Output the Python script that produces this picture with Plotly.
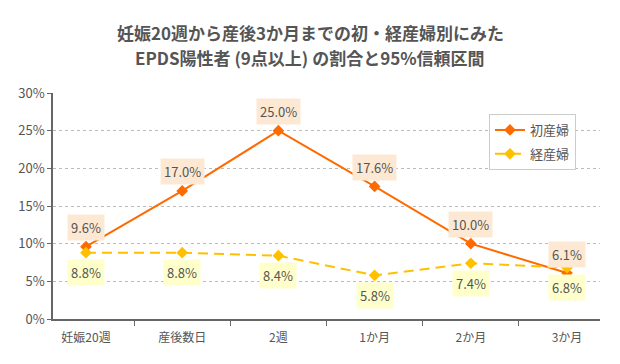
import plotly.graph_objects as go

categories = ["妊娠20週", "産後数日", "2週", "1か月", "2か月", "3か月"]
primipara = [9.6, 17.0, 25.0, 17.6, 10.0, 6.1]
multipara = [8.8, 8.8, 8.4, 5.8, 7.4, 6.8]
y_ticks = [0, 5, 10, 15, 20, 25, 30]
y_ticklabels = [f"{v}%" for v in y_ticks]
title_lines = ["妊娠20週から産後3か月までの初・経産婦別にみた",
               "EPDS陽性者 (9点以上) の割合と95%信頼区間"]

ORANGE = "#ff6a00"
YELLOW = "#ffc000"
TEXT = "#555555"
FONT = "Noto Sans CJK JP"

fig = go.Figure()
fig.add_trace(go.Scatter(
    x=categories, y=primipara, name="初産婦", mode="lines+markers",
    legendgroup="a",
    line=dict(color=ORANGE, width=2),
    marker=dict(symbol="diamond", size=9, color=ORANGE),
))
fig.add_trace(go.Scatter(
    x=categories, y=multipara, name="経産婦", mode="lines+markers",
    legendgroup="b",
    line=dict(color=YELLOW, width=2, dash="10px,6px"),
    marker=dict(symbol="diamond", size=9, color=YELLOW),
))

annotations = []
for c, v in zip(categories, primipara):
    annotations.append(dict(
        x=c, y=v, xref="x", yref="y", text=f"{v:.1f}%", showarrow=False,
        yshift=19, bgcolor="#fde9d3", borderpad=3,
        font=dict(family=FONT, size=13, color=TEXT),
    ))
for c, v in zip(categories, multipara):
    annotations.append(dict(
        x=c, y=v, xref="x", yref="y", text=f"{v:.1f}%", showarrow=False,
        yshift=-20, bgcolor="#ffffcc", borderpad=3,
        font=dict(family=FONT, size=13, color=TEXT),
    ))
for line, ty in zip(title_lines, [1.267, 1.156]):
    annotations.append(dict(
        x=0.470, y=ty, xref="paper", yref="paper", text=f"<b>{line}</b>",
        showarrow=False, xanchor="center", yanchor="middle",
        font=dict(family=FONT, size=17, color=TEXT),
    ))

fig.update_layout(
    width=612, height=356,
    margin=dict(l=45, r=20, t=85, b=45),
    paper_bgcolor="white", plot_bgcolor="white",
    font=dict(family=FONT, color=TEXT),
    showlegend=True,
    legend=dict(
        x=0.797, y=0.907, xanchor="left", yanchor="top",
        bordercolor="#cccccc", borderwidth=1, bgcolor="white",
        font=dict(family=FONT, size=13, color=TEXT),
        tracegroupgap=4,
    ),
    annotations=annotations,
    xaxis=dict(
        type="category", showgrid=False, automargin=False,
        showline=True, linecolor="#666666", linewidth=1.5,
        ticks="outside", ticklen=5, tickcolor="#666666",
        tickson="boundaries", ticklabelstandoff=7,
        tickfont=dict(family=FONT, size=12, color=TEXT),
    ),
    yaxis=dict(
        range=[0, 30], tickvals=y_ticks, ticktext=y_ticklabels,
        automargin=False,
        showgrid=True, gridcolor="#bbbbbb", griddash="dot", gridwidth=1,
        showline=True, linecolor="#666666", linewidth=1.5,
        ticks="outside", ticklen=4, tickcolor="#666666",
        zeroline=False,
        tickfont=dict(family=FONT, size=13, color=TEXT),
    ),
)

fig.write_html("out.html")
